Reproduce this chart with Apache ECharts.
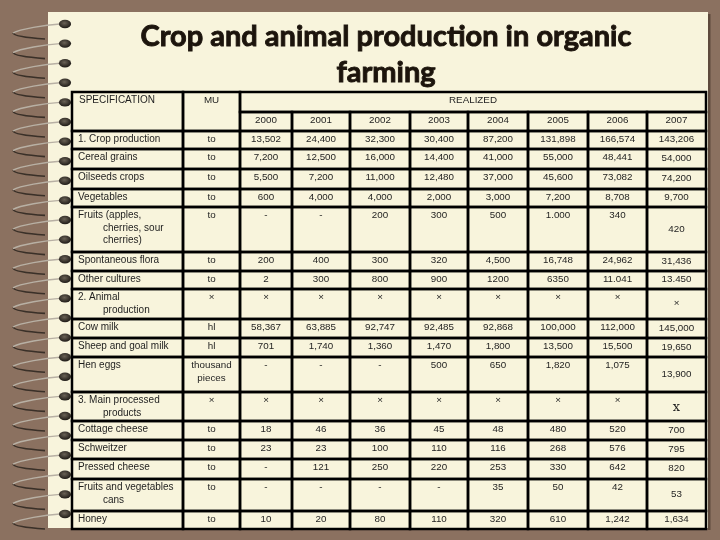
<!DOCTYPE html>
<html>
<head>
<meta charset="utf-8">
<script src="https://cdn.jsdelivr.net/npm/echarts@6/dist/echarts.min.js"></script>
<style>html,body{margin:0;padding:0;background:#8B7160;}#main{width:720px;height:540px;}</style>
</head>
<body>
<div id="main"></div>
<script>
// ---- data ----
const titleText = 'Crop and animal production in organic\nfarming';
const headSpec = 'SPECIFICATION';
const headUnit = 'MU';
const headRealized = 'REALIZED';
const years = ['2000','2001','2002','2003','2004','2005','2006','2007'];
const specs = ['1. Crop production','Cereal grains','Oilseeds crops','Vegetables',
  'Fruits (apples,\ncherries, sour\ncherries)','Spontaneous flora','Other cultures',
  '2. Animal\nproduction','Cow milk','Sheep and goal milk','Hen eggs',
  '3. Main processed\nproducts','Cottage cheese','Schweitzer','Pressed cheese',
  'Fruits and vegetables\ncans','Honey'];
const units = ['to','to','to','to','to','to','to','×','hl','hl','thousand\npieces','×','to','to','to','to','to'];
const v2000 = ['13,502','7,200','5,500','600','-','200','2','×','58,367','701','-','×','18','23','-','-','10'];
const v2001 = ['24,400','12,500','7,200','4,000','-','400','300','×','63,885','1,740','-','×','46','23','121','-','20'];
const v2002 = ['32,300','16,000','11,000','4,000','200','300','800','×','92,747','1,360','-','×','36','100','250','-','80'];
const v2003 = ['30,400','14,400','12,480','2,000','300','320','900','×','92,485','1,470','500','×','45','110','220','-','110'];
const v2004 = ['87,200','41,000','37,000','3,000','500','4,500','1200','×','92,868','1,800','650','×','48','116','253','35','320'];
const v2005 = ['131,898','55,000','45,600','7,200','1.000','16,748','6350','×','100,000','13,500','1,820','×','480','268','330','50','610'];
const v2006 = ['166,574','48,441','73,082','8,708','340','24,962','11.041','×','112,000','15,500','1,075','×','520','576','642','42','1,242'];
const v2007 = ['143,206','54,000','74,200','9,700','420','31,436','13.450','×','145,000','19,650','13,900','X','700','795','820','53','1,634'];
const yearValues = [v2000,v2001,v2002,v2003,v2004,v2005,v2006,v2007];

// ---- layout (table grid edges, in page units) ----
const colX = [72,183,240,292,350,410,468,528,588,647,706];
const rowY = [92,112,131,149,169,189,207,252,271,289,319,338,357,392,421,440,459,479,511,529];

// build cells
const cells = [];
cells.push({c0:0,c1:1,r0:0,r1:2,text:headSpec,align:'left',va:'top'});
cells.push({c0:1,c1:2,r0:0,r1:2,text:headUnit,align:'center',va:'top'});
cells.push({c0:2,c1:10,r0:0,r1:1,text:headRealized,align:'center',va:'top'});
years.forEach((y,j)=>cells.push({c0:2+j,c1:3+j,r0:1,r1:2,text:y,align:'center',va:'top'}));
specs.forEach((s,i)=>{
  const r0 = i+2, r1 = i+3;
  cells.push({c0:0,c1:1,r0,r1,text:s,align:'spec',va:'top'});
  cells.push({c0:1,c1:2,r0,r1,text:units[i],align:'center',va:'top'});
  yearValues.forEach((arr,j)=>{
    cells.push({c0:2+j,c1:3+j,r0,r1,text:arr[i],align:'center',va: j===7?'middle':'top'});
  });
});

const FONT = '9.8px "Liberation Sans", Arial, sans-serif';
const LH = 12.5;

function renderItem(params, api){
  const cell = cells[params.dataIndex];
  const p0 = api.coord([colX[api.value(0)], rowY[api.value(2)]]);
  const p1 = api.coord([colX[api.value(1)], rowY[api.value(3)]]);
  const w = p1[0]-p0[0], h = p1[1]-p0[1];
  const children = [{
    type:'rect', shape:{x:p0[0],y:p0[1],width:w,height:h},
    style:{fill:'none',stroke:'#000',lineWidth:2.5}
  }];
  const lines = cell.text.split('\n');
  const total = lines.length*LH;
  let top = cell.va==='middle' ? p0[1] + (h-total)/2 + 1 : p0[1] + 3.5;
  lines.forEach((ln,k)=>{
    let x, align;
    if (cell.align==='left'){ x = p0[0]+7; align='left'; }
    else if (cell.align==='spec'){ x = p0[0] + (k===0?6:31); align='left'; }
    else { x = p0[0]+w/2; align='center'; }
    const isBigX = ln==='X';
    const isSpec = cell.align==='spec' || cell.align==='left';
    children.push({type:'text', style:{
      text: isBigX ? 'x' : ln, x, y: top + k*LH, align, verticalAlign:'top',
      font: isBigX ? '13px "DejaVu Serif", serif' : (isSpec ? '10px "Liberation Sans", Arial, sans-serif' : FONT),
      fill:'#1e1e1e'
    }});
  });
  return {type:'group', children};
}

// spiral rings (decoration)
const rings = [];
for (let i=0;i<26;i++){
  const y = 24 + i*19.6;
  rings.push({type:'bezierCurve', z:10, shape:{x1:45,y1:y+15,cpx1:30,cpy1:y+14,cpx2:14,cpy2:y+12,x2:13,y2:y+9},
    style:{fill:null,stroke:'#3a3028',lineWidth:1.6}});
  rings.push({type:'bezierCurve', z:11, shape:{x1:13,y1:y+9,cpx1:20,cpy1:y+5,cpx2:45,cpy2:y+1,x2:60,y2:y},
    style:{fill:null,stroke:'#b8b0a4',lineWidth:1.4}});
  rings.push({type:'circle', z:12, x:65, y:y, scaleX:1.45, shape:{cx:0,cy:0,r:4.2},
    style:{fill:{type:'radial',x:0.45,y:0.4,r:0.6,colorStops:[{offset:0,color:'#6a6256'},{offset:1,color:'#1e1a16'}]}}});
}

const chart = echarts.init(document.getElementById('main'), null, {renderer:'canvas'});
chart.setOption({
  backgroundColor:'#8B7160',
  animation:false,
  grid:{left:0,top:0,right:0,bottom:0},
  xAxis:{type:'value',min:0,max:720,show:false},
  yAxis:{type:'value',min:0,max:540,inverse:true,show:false},
  graphic:[
    {type:'rect', z:-10, shape:{x:708,y:14,width:2.5,height:516}, style:{fill:'#5e4a3c'}},
    {type:'rect', z:-9, shape:{x:48,y:12,width:660,height:516}, style:{fill:'#F8F4DC'}},
    {type:'text', z:5, style:{text:titleText, x:386, y:19, align:'center', verticalAlign:'top',
      font:'bold 29px Lato, "Open Sans", sans-serif', lineHeight:36, fill:'#1c140c',
      stroke:'#1c140c', lineWidth:0.9}},
    ...rings
  ],
  series:[{
    type:'custom', renderItem, coordinateSystem:'cartesian2d', z:3,
    data: cells.map(c=>[c.c0,c.c1,c.r0,c.r1]),
    clip:false, silent:true
  }]
});
</script>
</body>
</html>
